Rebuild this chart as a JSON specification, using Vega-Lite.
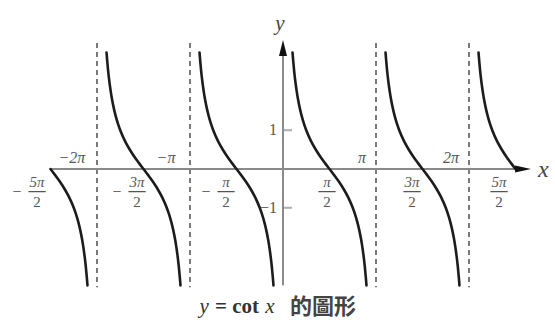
{
  "$schema": "https://vega.github.io/schema/vega-lite/v6.json",
  "width": 555,
  "height": 320,
  "padding": 0,
  "autosize": {"type": "none"},
  "background": "white",
  "config": {"view": {"stroke": null}, "axis": {"disable": true}},
  "datasets": {
    "curve": [
      {"b":-3,"x":-2.5,"y":0},{"b":-3,"x":-2.45,"y":-0.1584},{"b":-3,"x":-2.4,"y":-0.3249},{"b":-3,"x":-2.35,"y":-0.5095},{"b":-3,"x":-2.3,"y":-0.7265},{"b":-3,"x":-2.25,"y":-1},{"b":-3,"x":-2.225,"y":-1.1708},{"b":-3,"x":-2.2,"y":-1.3764},{"b":-3,"x":-2.18,"y":-1.5757},{"b":-3,"x":-2.16,"y":-1.819},{"b":-3,"x":-2.15,"y":-1.9626},{"b":-3,"x":-2.14,"y":-2.1251},{"b":-3,"x":-2.13,"y":-2.3109},{"b":-3,"x":-2.12,"y":-2.5257},{"b":-3,"x":-2.11,"y":-2.7776},{"b":-3,"x":-2.1024,"y":-3},
      {"b":-2,"x":-1.8976,"y":3},{"b":-2,"x":-1.89,"y":2.7776},{"b":-2,"x":-1.88,"y":2.5257},{"b":-2,"x":-1.87,"y":2.3109},{"b":-2,"x":-1.86,"y":2.1251},{"b":-2,"x":-1.85,"y":1.9626},{"b":-2,"x":-1.84,"y":1.819},{"b":-2,"x":-1.82,"y":1.5757},{"b":-2,"x":-1.8,"y":1.3764},{"b":-2,"x":-1.775,"y":1.1708},{"b":-2,"x":-1.75,"y":1},{"b":-2,"x":-1.7,"y":0.7265},{"b":-2,"x":-1.65,"y":0.5095},{"b":-2,"x":-1.6,"y":0.3249},{"b":-2,"x":-1.55,"y":0.1584},{"b":-2,"x":-1.5,"y":0},{"b":-2,"x":-1.45,"y":-0.1584},{"b":-2,"x":-1.4,"y":-0.3249},{"b":-2,"x":-1.35,"y":-0.5095},{"b":-2,"x":-1.3,"y":-0.7265},{"b":-2,"x":-1.25,"y":-1},{"b":-2,"x":-1.225,"y":-1.1708},{"b":-2,"x":-1.2,"y":-1.3764},{"b":-2,"x":-1.18,"y":-1.5757},{"b":-2,"x":-1.16,"y":-1.819},{"b":-2,"x":-1.15,"y":-1.9626},{"b":-2,"x":-1.14,"y":-2.1251},{"b":-2,"x":-1.13,"y":-2.3109},{"b":-2,"x":-1.12,"y":-2.5257},{"b":-2,"x":-1.11,"y":-2.7776},{"b":-2,"x":-1.1024,"y":-3},
      {"b":-1,"x":-0.8976,"y":3},{"b":-1,"x":-0.89,"y":2.7776},{"b":-1,"x":-0.88,"y":2.5257},{"b":-1,"x":-0.87,"y":2.3109},{"b":-1,"x":-0.86,"y":2.1251},{"b":-1,"x":-0.85,"y":1.9626},{"b":-1,"x":-0.84,"y":1.819},{"b":-1,"x":-0.82,"y":1.5757},{"b":-1,"x":-0.8,"y":1.3764},{"b":-1,"x":-0.775,"y":1.1708},{"b":-1,"x":-0.75,"y":1},{"b":-1,"x":-0.7,"y":0.7265},{"b":-1,"x":-0.65,"y":0.5095},{"b":-1,"x":-0.6,"y":0.3249},{"b":-1,"x":-0.55,"y":0.1584},{"b":-1,"x":-0.5,"y":0},{"b":-1,"x":-0.45,"y":-0.1584},{"b":-1,"x":-0.4,"y":-0.3249},{"b":-1,"x":-0.35,"y":-0.5095},{"b":-1,"x":-0.3,"y":-0.7265},{"b":-1,"x":-0.25,"y":-1},{"b":-1,"x":-0.225,"y":-1.1708},{"b":-1,"x":-0.2,"y":-1.3764},{"b":-1,"x":-0.18,"y":-1.5757},{"b":-1,"x":-0.16,"y":-1.819},{"b":-1,"x":-0.15,"y":-1.9626},{"b":-1,"x":-0.14,"y":-2.1251},{"b":-1,"x":-0.13,"y":-2.3109},{"b":-1,"x":-0.12,"y":-2.5257},{"b":-1,"x":-0.11,"y":-2.7776},{"b":-1,"x":-0.1024,"y":-3},
      {"b":0,"x":0.1024,"y":3},{"b":0,"x":0.11,"y":2.7776},{"b":0,"x":0.12,"y":2.5257},{"b":0,"x":0.13,"y":2.3109},{"b":0,"x":0.14,"y":2.1251},{"b":0,"x":0.15,"y":1.9626},{"b":0,"x":0.16,"y":1.819},{"b":0,"x":0.18,"y":1.5757},{"b":0,"x":0.2,"y":1.3764},{"b":0,"x":0.225,"y":1.1708},{"b":0,"x":0.25,"y":1},{"b":0,"x":0.3,"y":0.7265},{"b":0,"x":0.35,"y":0.5095},{"b":0,"x":0.4,"y":0.3249},{"b":0,"x":0.45,"y":0.1584},{"b":0,"x":0.5,"y":0},{"b":0,"x":0.55,"y":-0.1584},{"b":0,"x":0.6,"y":-0.3249},{"b":0,"x":0.65,"y":-0.5095},{"b":0,"x":0.7,"y":-0.7265},{"b":0,"x":0.75,"y":-1},{"b":0,"x":0.775,"y":-1.1708},{"b":0,"x":0.8,"y":-1.3764},{"b":0,"x":0.82,"y":-1.5757},{"b":0,"x":0.84,"y":-1.819},{"b":0,"x":0.85,"y":-1.9626},{"b":0,"x":0.86,"y":-2.1251},{"b":0,"x":0.87,"y":-2.3109},{"b":0,"x":0.88,"y":-2.5257},{"b":0,"x":0.89,"y":-2.7776},{"b":0,"x":0.8976,"y":-3},
      {"b":1,"x":1.1024,"y":3},{"b":1,"x":1.11,"y":2.7776},{"b":1,"x":1.12,"y":2.5257},{"b":1,"x":1.13,"y":2.3109},{"b":1,"x":1.14,"y":2.1251},{"b":1,"x":1.15,"y":1.9626},{"b":1,"x":1.16,"y":1.819},{"b":1,"x":1.18,"y":1.5757},{"b":1,"x":1.2,"y":1.3764},{"b":1,"x":1.225,"y":1.1708},{"b":1,"x":1.25,"y":1},{"b":1,"x":1.3,"y":0.7265},{"b":1,"x":1.35,"y":0.5095},{"b":1,"x":1.4,"y":0.3249},{"b":1,"x":1.45,"y":0.1584},{"b":1,"x":1.5,"y":0},{"b":1,"x":1.55,"y":-0.1584},{"b":1,"x":1.6,"y":-0.3249},{"b":1,"x":1.65,"y":-0.5095},{"b":1,"x":1.7,"y":-0.7265},{"b":1,"x":1.75,"y":-1},{"b":1,"x":1.775,"y":-1.1708},{"b":1,"x":1.8,"y":-1.3764},{"b":1,"x":1.82,"y":-1.5757},{"b":1,"x":1.84,"y":-1.819},{"b":1,"x":1.85,"y":-1.9626},{"b":1,"x":1.86,"y":-2.1251},{"b":1,"x":1.87,"y":-2.3109},{"b":1,"x":1.88,"y":-2.5257},{"b":1,"x":1.89,"y":-2.7776},{"b":1,"x":1.8976,"y":-3},
      {"b":2,"x":2.1024,"y":3},{"b":2,"x":2.11,"y":2.7776},{"b":2,"x":2.12,"y":2.5257},{"b":2,"x":2.13,"y":2.3109},{"b":2,"x":2.14,"y":2.1251},{"b":2,"x":2.15,"y":1.9626},{"b":2,"x":2.16,"y":1.819},{"b":2,"x":2.18,"y":1.5757},{"b":2,"x":2.2,"y":1.3764},{"b":2,"x":2.225,"y":1.1708},{"b":2,"x":2.25,"y":1},{"b":2,"x":2.3,"y":0.7265},{"b":2,"x":2.35,"y":0.5095},{"b":2,"x":2.4,"y":0.3249},{"b":2,"x":2.45,"y":0.1584},{"b":2,"x":2.5,"y":0}
    ],
    "asym": [{"x": -2}, {"x": -1}, {"x": 1}, {"x": 2}],
    "whole": [
      {"x": -2.269, "label": "−2π"},
      {"x": -1.258, "label": "−π"},
      {"x": 0.849, "label": "π"},
      {"x": 1.806, "label": "2π"}
    ],
    "frac": [
      {"x": -2.645, "num": "5π", "den": "2", "sign": "−"},
      {"x": -1.57, "num": "3π", "den": "2", "sign": "−"},
      {"x": -0.613, "num": "π", "den": "2", "sign": "−"},
      {"x": 0.473, "num": "π", "den": "2", "sign": ""},
      {"x": 1.387, "num": "3π", "den": "2", "sign": ""},
      {"x": 2.323, "num": "5π", "den": "2", "sign": ""}
    ],
    "ylab": [{"y": 1, "label": "1"}, {"y": -1, "label": "−1"}],
    "one": [{}]
  },
  "layer": [
    {
      "data": {"name": "asym"},
      "mark": {"type": "rule", "strokeDash": [5, 4], "strokeWidth": 2, "color": "#7a7a7a"},
      "encoding": {
        "x": {"field": "x", "type": "quantitative", "scale": {"domain": [-3.043, 2.9247], "nice": false, "zero": false}},
        "y": {"datum": 3.25, "type": "quantitative", "scale": {"domain": [-3.8918, 4.3557], "nice": false, "zero": false}},
        "y2": {"datum": -3.05}
      }
    },
    {
      "data": {"name": "one"},
      "mark": {"type": "rule", "strokeWidth": 2, "color": "#8a8a8a"},
      "encoding": {
        "x": {"datum": -2.505, "type": "quantitative"},
        "x2": {"datum": 2.6},
        "y": {"datum": 0, "type": "quantitative"}
      }
    },
    {
      "data": {"name": "one"},
      "mark": {"type": "rule", "strokeWidth": 2, "color": "#8a8a8a"},
      "encoding": {
        "x": {"datum": 0, "type": "quantitative"},
        "y": {"datum": -3.0, "type": "quantitative"},
        "y2": {"datum": 3.1}
      }
    },
    {
      "data": {"name": "ylab"},
      "mark": {"type": "tick", "orient": "horizontal", "size": 9, "thickness": 2, "xOffset": 4.5, "color": "#8a8a8a"},
      "encoding": {
        "x": {"datum": 0, "type": "quantitative"},
        "y": {"field": "y", "type": "quantitative"}
      }
    },
    {
      "data": {"name": "curve"},
      "mark": {"type": "line", "interpolate": "monotone", "strokeWidth": 2.6, "color": "#1c1c1c", "strokeCap": "round"},
      "encoding": {
        "x": {"field": "x", "type": "quantitative"},
        "y": {"field": "y", "type": "quantitative"},
        "detail": {"field": "b", "type": "nominal"}
      }
    },
    {
      "data": {"name": "one"},
      "mark": {"type": "point", "shape": "M0,-1L0.5,1L-0.5,1Z", "filled": true, "size": 256, "color": "#111", "opacity": 1},
      "encoding": {
        "x": {"datum": 0, "type": "quantitative"},
        "y": {"datum": 3.12, "type": "quantitative"}
      }
    },
    {
      "data": {"name": "one"},
      "mark": {"type": "point", "shape": "M1,0L-1,-0.45L-1,0.45Z", "filled": true, "size": 256, "color": "#111", "opacity": 1},
      "encoding": {
        "x": {"datum": 2.581, "type": "quantitative"},
        "y": {"datum": 0, "type": "quantitative"}
      }
    },
    {
      "data": {"name": "whole"},
      "mark": {"type": "text", "font": "Liberation Serif", "fontSize": 16, "fontStyle": "italic", "color": "#555", "dy": -11, "baseline": "middle", "align": "center"},
      "encoding": {
        "x": {"field": "x", "type": "quantitative"},
        "y": {"datum": 0, "type": "quantitative"},
        "text": {"field": "label"}
      }
    },
    {
      "data": {"name": "frac"},
      "mark": {"type": "text", "font": "Liberation Serif", "fontSize": 15, "fontStyle": "italic", "color": "#555", "dy": 13, "baseline": "middle", "align": "center"},
      "encoding": {
        "x": {"field": "x", "type": "quantitative"},
        "y": {"datum": 0, "type": "quantitative"},
        "text": {"field": "num"}
      }
    },
    {
      "data": {"name": "frac"},
      "mark": {"type": "text", "text": "—", "font": "Liberation Serif", "fontSize": 17, "fontWeight": "bold", "color": "#555", "dy": 22, "baseline": "middle", "align": "center"},
      "encoding": {
        "x": {"field": "x", "type": "quantitative"},
        "y": {"datum": 0, "type": "quantitative"}
      }
    },
    {
      "data": {"name": "frac"},
      "mark": {"type": "text", "font": "Liberation Serif", "fontSize": 15, "color": "#555", "dy": 33, "baseline": "middle", "align": "center"},
      "encoding": {
        "x": {"field": "x", "type": "quantitative"},
        "y": {"datum": 0, "type": "quantitative"},
        "text": {"field": "den"}
      }
    },
    {
      "data": {"name": "frac"},
      "mark": {"type": "text", "font": "Liberation Serif", "fontSize": 16, "color": "#555", "dy": 23, "dx": -20, "baseline": "middle", "align": "center"},
      "encoding": {
        "x": {"field": "x", "type": "quantitative"},
        "y": {"datum": 0, "type": "quantitative"},
        "text": {"field": "sign"}
      }
    },
    {
      "data": {"name": "ylab"},
      "mark": {"type": "text", "font": "Liberation Serif", "fontSize": 16, "color": "#555", "dx": -6, "baseline": "middle", "align": "right"},
      "encoding": {
        "x": {"datum": 0, "type": "quantitative"},
        "y": {"field": "y", "type": "quantitative"},
        "text": {"field": "label"}
      }
    },
    {
      "data": {"name": "one"},
      "mark": {"type": "text", "text": "x", "font": "Liberation Serif", "fontSize": 24, "fontStyle": "italic", "color": "#444", "dy": 1, "baseline": "middle", "align": "center"},
      "encoding": {
        "x": {"datum": 2.8, "type": "quantitative"},
        "y": {"datum": 0, "type": "quantitative"}
      }
    },
    {
      "data": {"name": "one"},
      "mark": {"type": "text", "text": "y", "font": "Liberation Serif", "fontSize": 21, "fontStyle": "italic", "color": "#444", "dy": -24, "dx": -3, "baseline": "middle", "align": "center"},
      "encoding": {
        "x": {"datum": 0, "type": "quantitative"},
        "y": {"datum": 3.12, "type": "quantitative"}
      }
    },
    {
      "data": {"name": "one"},
      "mark": {"type": "text", "text": "y", "font": "Liberation Serif", "fontSize": 21, "fontStyle": "italic", "color": "#333", "baseline": "middle", "align": "center"},
      "encoding": {
        "x": {"datum": -0.849, "type": "quantitative"},
        "y": {"datum": -3.56, "type": "quantitative"}
      }
    },
    {
      "data": {"name": "one"},
      "mark": {"type": "text", "text": "= cot", "font": "Liberation Serif", "fontSize": 21, "fontWeight": "bold", "color": "#333", "baseline": "middle", "align": "center"},
      "encoding": {
        "x": {"datum": -0.495, "type": "quantitative"},
        "y": {"datum": -3.56, "type": "quantitative"}
      }
    },
    {
      "data": {"name": "one"},
      "mark": {"type": "text", "text": "x", "font": "Liberation Serif", "fontSize": 21, "fontStyle": "italic", "color": "#333", "baseline": "middle", "align": "center"},
      "encoding": {
        "x": {"datum": -0.14, "type": "quantitative"},
        "y": {"datum": -3.56, "type": "quantitative"}
      }
    },
    {
      "data": {"name": "one"},
      "mark": {"type": "text", "text": "的圖形", "font": "Noto Sans CJK TC", "fontSize": 22, "fontWeight": "bold", "color": "#444", "baseline": "middle", "align": "center"},
      "encoding": {
        "x": {"datum": 0.43, "type": "quantitative"},
        "y": {"datum": -3.56, "type": "quantitative"}
      }
    }
  ]
}
